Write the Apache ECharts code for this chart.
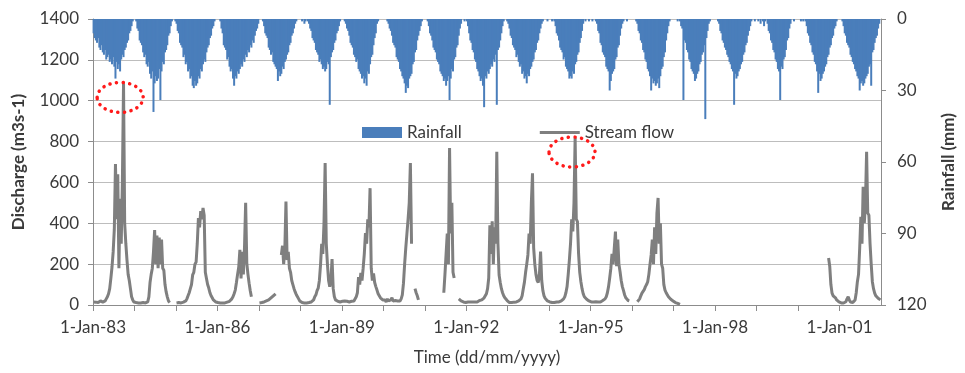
<!DOCTYPE html>
<html><head><meta charset="utf-8">
<script src="https://cdn.jsdelivr.net/npm/echarts@6/dist/echarts.min.js"></script>
<style>html,body{margin:0;padding:0;background:#fff}#c{width:965px;height:373px}</style>
</head><body><div id="c"></div>
<script>
// Years (each year split into 36 ten-day periods)
const years = [1983,1984,1985,1986,1987,1988,1989,1990,1991,1992,1993,1994,1995,1996,1997,1998,1999,2000,2001];
const periodsPerYear = 36;

// Stream flow (m3/s), null = missing record
const flow1983 = [15,12,14,18,12,15,20,18,14,16,20,30,40,55,80,130,186,260,370,690,420,640,180,520,300,600,1085,400,300,220,150,120,80,40,25,15];
const flow1984 = [15,12,10,10,12,10,10,12,10,10,12,15,40,110,150,180,260,367,200,340,180,330,200,320,180,170,100,64,40,20,12,null,null,null,null,null];
const flow1985 = [10,10,12,12,10,12,14,15,20,30,45,60,80,100,147,160,200,210,300,425,380,460,420,475,440,160,130,100,83,60,45,35,25,20,15,12];
const flow1986 = [12,10,10,12,10,12,10,12,14,15,18,22,30,40,55,73,110,150,186,270,130,260,150,280,500,205,150,107,70,40,null,null,null,null,null,null];
const flow1987 = [10,10,12,12,15,18,20,22,25,30,35,40,45,50,55,null,null,null,null,245,290,200,270,506,220,260,180,160,120,100,80,64,50,40,30,20];
const flow1988 = [15,12,12,10,12,10,10,12,12,15,18,25,40,50,70,83,120,196,300,250,400,695,300,200,120,90,120,225,80,40,25,20,18,15,15,15];
const flow1989 = [18,15,20,15,18,25,15,20,18,22,20,25,40,60,137,100,157,120,180,250,352,300,420,380,572,180,120,155,110,90,73,55,45,35,30,25];
const flow1990 = [20,25,15,30,20,15,25,35,20,18,22,15,20,25,20,30,50,107,200,280,350,420,500,695,300,null,null,80,60,45,25,null,null,null,null,null];
const flow1991 = [null,null,null,null,null,null,null,null,null,null,null,null,null,null,null,null,60,150,250,350,200,768,350,500,160,132,null,null,null,30,25,20,18,15,15,12];
const flow1992 = [18,15,20,15,18,15,12,15,18,15,20,22,25,25,30,35,40,55,80,132,390,250,410,200,380,300,750,300,147,110,80,60,45,35,28,22];
const flow1993 = [15,12,15,12,15,14,12,15,18,20,25,30,45,80,112,160,200,245,350,300,500,645,280,200,150,120,110,150,261,120,70,45,33,25,20,18];
const flow1994 = [15,14,12,15,12,14,15,12,15,18,20,25,30,40,60,90,150,220,300,420,360,500,817,420,408,250,160,114,80,55,40,33,28,25,20,18];
const flow1995 = [15,18,15,14,16,15,15,18,15,20,22,25,30,40,60,90,132,180,250,200,280,359,190,320,200,163,120,90,70,49,35,28,22,20,null,null];
const flow1996 = [null,null,null,null,16,20,30,45,58,65,75,90,100,114,150,200,245,320,200,380,250,450,524,300,400,200,180,100,73,60,50,40,33,28,25,20];
const flow1997 = [15,12,10,8,5,3,null];
const flow1998 = [];
const flow1999 = [];
const flow2000 = [null,null,null,null,null,null,null,null,null,null,null,null,null,null,null,null,null,null,null,null,null,null,null,null,null,null,230,190,100,58,45,40,35,25,20,15];
const flow2001 = [12,10,15,10,12,16,30,40,25,15,10,12,15,25,60,114,150,278,432,300,579,400,500,750,450,440,300,200,114,80,58,45,38,33,28,25];

// Rainfall (mm), ten-day maxima
const rain1983 = [6,8,9,10,8,12,13,11,14,15,13,17,16,15,18,17,19,16,20,25,18,21,19,22,17,15,16,13,12,10,9,6,5,3,1,0];
const rain1984 = [0,1,4,5,9,10,11,14,16,15,19,20,18,23,25,22,39,27,24,26,25,21,34,22,18,19,14,13,11,7,6,3,1,0,0,1];
const rain1985 = [2,5,6,10,11,12,16,15,19,18,22,21,25,24,28,29,26,28,27,24,25,21,22,19,17,18,14,12,11,8,7,4,3,1,0,0];
const rain1986 = [0,0,1,4,6,11,12,13,17,16,20,22,21,25,28,24,25,22,23,21,19,20,17,18,15,16,13,14,11,12,9,10,7,5,4,2];
const rain1987 = [0,0,0,1,3,6,7,8,12,13,15,14,18,19,20,21,26,22,24,23,20,21,18,17,15,14,11,10,7,6,4,2,1,0,0,0];
const rain1988 = [0,1,0,2,1,0,1,2,4,5,8,9,10,13,14,15,18,17,19,21,20,22,21,18,19,36,16,14,13,10,9,6,5,3,1,0];
const rain1989 = [0,0,1,2,4,5,7,10,11,12,15,16,18,17,21,22,23,25,24,27,25,28,22,23,19,16,15,11,8,6,2,1,0,0,0,0];
const rain1990 = [0,0,0,1,2,4,5,7,10,11,12,16,17,18,21,22,24,25,27,31,28,29,25,24,23,19,18,14,13,9,7,5,3,1,0,0];
const rain1991 = [0,0,1,3,6,7,9,12,13,14,17,18,19,22,23,24,26,25,28,26,24,34,25,21,22,17,16,12,11,7,4,2,0,0,1,0];
const rain1992 = [1,3,6,9,10,13,14,17,18,21,22,24,26,25,28,37,24,25,22,23,21,19,20,17,18,15,36,13,12,9,6,3,1,0,0,1];
const rain1993 = [2,4,7,8,11,12,13,16,15,18,20,19,23,22,25,24,27,23,24,21,20,18,17,14,13,10,9,6,4,2,1,0,0,0,1,0];
const rain1994 = [0,0,1,0,1,3,6,7,9,12,13,14,17,16,20,21,22,25,24,25,22,23,19,18,15,14,10,8,5,2,0,1,0,0,1,0];
const rain1995 = [0,1,0,0,1,2,5,6,10,11,14,15,16,20,21,22,30,26,23,22,21,17,16,12,11,7,4,2,1,0,0,1,0,0,0,0];
const rain1996 = [0,0,0,1,2,5,6,9,10,13,14,17,18,21,22,24,30,25,27,26,28,27,25,29,24,21,20,16,14,9,6,3,1,0,0,0];
const rain1997 = [0,0,0,1,0,1,3,4,34,9,10,13,14,17,18,21,22,23,26,25,23,22,19,18,15,14,11,42,8,5,2,1,0,0,0,0];
const rain1998 = [0,0,1,2,5,6,9,10,12,13,15,16,18,19,21,22,36,23,25,24,22,21,19,18,15,14,11,10,7,5,3,1,0,0,1,0];
const rain1999 = [0,1,0,2,0,1,3,1,0,2,5,6,9,10,13,14,17,18,21,22,34,20,21,17,16,13,9,8,4,2,0,0,1,0,0,0];
const rain2000 = [0,0,1,0,1,0,1,3,6,7,10,11,14,15,18,19,22,31,23,26,25,23,22,20,19,16,15,12,11,8,7,4,3,1,0,0];
const rain2001 = [0,0,1,3,6,7,10,11,12,15,16,18,19,21,22,24,25,30,27,26,28,27,25,24,23,20,19,28,14,13,10,8,7,4,2,0];

const flowByYear = [flow1983,flow1984,flow1985,flow1986,flow1987,flow1988,flow1989,flow1990,flow1991,flow1992,flow1993,flow1994,flow1995,flow1996,flow1997,flow1998,flow1999,flow2000,flow2001];
const rainByYear = [rain1983,rain1984,rain1985,rain1986,rain1987,rain1988,rain1989,rain1990,rain1991,rain1992,rain1993,rain1994,rain1995,rain1996,rain1997,rain1998,rain1999,rain2000,rain2001];

// Axis ticks
const dischargeTicks = [0,200,400,600,800,1000,1200,1400];
const rainTicks = [0,30,60,90,120];
const labelYears = [1983,1986,1989,1992,1995,1998,2001];

// Annotated peaks (data coordinates of the dotted circles)
const circledPeaks = [[1983.655, 1016], [1994.55, 749]];

function build(list){
  const out = [];
  list.forEach((arr, yi) => {
    arr.forEach((v, i) => out.push([years[yi] + (i + 0.5) / periodsPerYear, v]));
  });
  return out;
}
const flowData = build(flowByYear);
const rainData = build(rainByYear);

const FONT = 'Lato';
const txt = '#3a3a3a';
const axisCol = '#8c8c8c';
const chart = echarts.init(document.getElementById('c'), null, {renderer:'canvas'});
chart.setOption({
  animation:false,
  backgroundColor:'#fff',
  textStyle:{fontFamily:FONT},
  grid:{left:93,right:75,top:19,bottom:68},
  legend:{
    left:357, top:119, itemWidth:40, itemHeight:11, itemGap:78, symbolKeepAspect:true,
    textStyle:{fontSize:17,color:txt,fontFamily:FONT},
    data:[{name:'Rainfall',icon:'rect'},
          {name:'Stream flow',icon:'path://M0,0 L40,0 L40,3 L0,3 Z',itemStyle:{color:'#7f7f7f'}}]
  },
  xAxis:{
    type:'value', min:years[0], max:years[years.length-1]+1, interval:1,
    axisLine:{lineStyle:{color:axisCol,width:1}},
    axisTick:{show:true,length:6,lineStyle:{color:axisCol}},
    splitLine:{show:false},
    axisLabel:{fontSize:17,color:txt,margin:14,showMaxLabel:false,
      formatter:v=>labelYears.indexOf(v)>=0 ? '1-Jan-' + String(v).slice(2) : ''},
    name:'Time (dd/mm/yyyy)', nameLocation:'middle', nameGap:44,
    nameTextStyle:{fontSize:17,color:txt}
  },
  yAxis:[{
    type:'value', min:dischargeTicks[0], max:dischargeTicks[dischargeTicks.length-1], interval:200,
    axisLine:{show:true,lineStyle:{color:axisCol}},
    axisTick:{show:true,length:5,lineStyle:{color:axisCol}},
    splitLine:{lineStyle:{color:'#bdbdbd',width:1}},
    axisLabel:{fontSize:17,color:txt,margin:14,formatter:v=>String(v)},
    name:'Discharge (m3s-1)', nameLocation:'middle', nameGap:66, nameRotate:90,
    nameTextStyle:{fontSize:17,color:txt,fontWeight:'bold'}
  },{
    type:'value', min:rainTicks[0], max:rainTicks[rainTicks.length-1], interval:30, inverse:true, position:'right',
    axisLine:{show:true,lineStyle:{color:axisCol}},
    axisTick:{show:true,length:5,lineStyle:{color:axisCol}},
    splitLine:{show:false},
    axisLabel:{fontSize:17,color:txt,margin:16,formatter:v=>String(v)},
    name:'Rainfall (mm)', nameLocation:'middle', nameGap:59, nameRotate:90,
    nameTextStyle:{fontSize:17,color:txt,fontWeight:'bold'}
  }],
  series:[{
    name:'Rainfall', type:'bar', yAxisIndex:1, data:rainData, barWidth:2,
    itemStyle:{color:'#4a7ebb'}, silent:true
  },{
    name:'Stream flow', type:'line', yAxisIndex:0, data:flowData, symbol:'none',
    connectNulls:false, lineStyle:{color:'#7f7f7f',width:3}, itemStyle:{color:'#7f7f7f'}, silent:true
  }]
});

const g = circledPeaks.map(p => {
  const c = chart.convertToPixel({xAxisIndex:0,yAxisIndex:0}, p);
  return {type:'ellipse', shape:{cx:c[0],cy:c[1],rx:23,ry:15},
    style:{fill:null,stroke:'#ff1a1a',lineWidth:3.5,lineDash:[0.1,6.5],lineCap:'round'}, z:100};
});
chart.setOption({graphic:g});
</script></body></html>
